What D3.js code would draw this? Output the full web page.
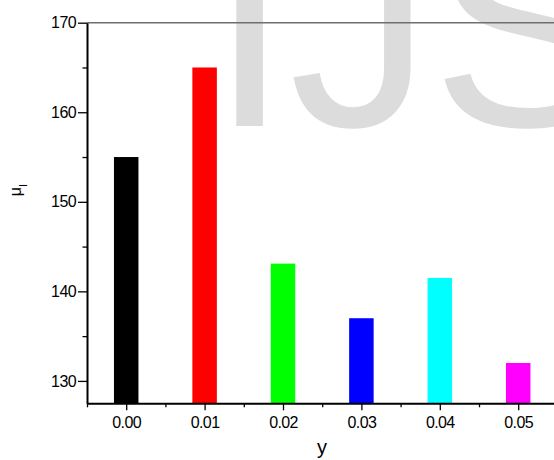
<!DOCTYPE html>
<html>
<head>
<meta charset="utf-8">
<script src="https://cdn.jsdelivr.net/npm/d3@7/dist/d3.min.js"></script>
<style>
  html, body { margin: 0; padding: 0; background: #fff; }
  svg { display: block; font-family: "Liberation Sans", Arial, sans-serif; }
</style>
</head>
<body>
<svg id="chart" width="554" height="460"></svg>
<script>
// Composition y and the corresponding μI value
const categories = [0.00, 0.01, 0.02, 0.03, 0.04, 0.05];
const muValues   = [155.0, 165.0, 143.1, 137.0, 141.5, 132.0];
const barColors  = ["#000000", "#ff0000", "#00ff00", "#0000ff", "#00ffff", "#ff00ff"];
const yTicks     = [130, 140, 150, 160, 170];
const yMinor     = [135, 145, 155, 165];
const xTickLabels = ["0.00", "0.01", "0.02", "0.03", "0.04", "0.05"];
const xMinor     = [-0.005, 0.005, 0.015, 0.025, 0.035, 0.045, 0.055];

const svg = d3.select("#chart");

const plotLeft = 87, plotTop = 22.7, plotBottom = 403.3, step = 78.4;
const x = d3.scaleLinear().domain([-0.005, 0.06]).range([plotLeft, plotLeft + step * 6.5]);
const y = d3.scaleLinear().domain([127.5, 170]).range([plotBottom, plotTop]);

// Background watermark lettering
svg.append("text")
  .attr("x", 210).attr("y", 126)
  .attr("font-size", 285)
  .attr("fill", "#dcdcdc")
  .text("IJS");

// Bars
const barW = x(0.003125) - x(0);
svg.append("g").selectAll("rect")
  .data(categories)
  .join("rect")
  .attr("x", (d) => x(d) - barW / 2)
  .attr("width", barW)
  .attr("y", (d, i) => y(muValues[i]))
  .attr("height", (d, i) => y(127.5) - y(muValues[i]))
  .attr("fill", (d, i) => barColors[i]);

// Top frame line
svg.append("line")
  .attr("x1", plotLeft).attr("x2", x(0.06))
  .attr("y1", y(170)).attr("y2", y(170))
  .attr("stroke", "#6e6e6e").attr("stroke-width", 1.4);

// Y axis: major ticks with labels, minor ticks
svg.append("g").attr("transform", `translate(${plotLeft},0)`)
  .call(d3.axisLeft(y).tickValues(yTicks).tickSize(9).tickSizeOuter(0).tickPadding(2));
svg.append("g").attr("transform", `translate(${plotLeft},0)`)
  .call(d3.axisLeft(y).tickValues(yMinor).tickSize(4.5).tickFormat(""))
  .select(".domain").remove();

// X axis
svg.append("g").attr("transform", `translate(0,${plotBottom})`)
  .call(d3.axisBottom(x).tickValues(categories).tickSize(7).tickSizeOuter(0)
    .tickFormat((d, i) => xTickLabels[i]).tickPadding(6));
svg.append("g").attr("transform", `translate(0,${plotBottom})`)
  .call(d3.axisBottom(x).tickValues(xMinor).tickSize(4).tickFormat(""))
  .select(".domain").remove();

svg.selectAll(".domain").attr("stroke", "#000").attr("stroke-width", 2);
svg.selectAll(".tick line").attr("stroke", "#000").attr("stroke-width", 1.3);
svg.selectAll(".tick text")
  .attr("font-family", "Liberation Sans, Arial, sans-serif")
  .attr("font-size", 16)
  .attr("letter-spacing", "-0.6px")
  .attr("fill", "#000");

// Axis titles
svg.append("text")
  .attr("x", 322).attr("y", 454)
  .attr("text-anchor", "middle")
  .attr("font-size", 20)
  .text("y");

const yt = svg.append("text")
  .attr("transform", "translate(21,190) rotate(-90)")
  .attr("text-anchor", "middle")
  .attr("font-size", 16);
yt.append("tspan").text("μ");
yt.append("tspan").attr("font-size", 11).attr("dy", 6).text("I");
</script>
</body>
</html>
